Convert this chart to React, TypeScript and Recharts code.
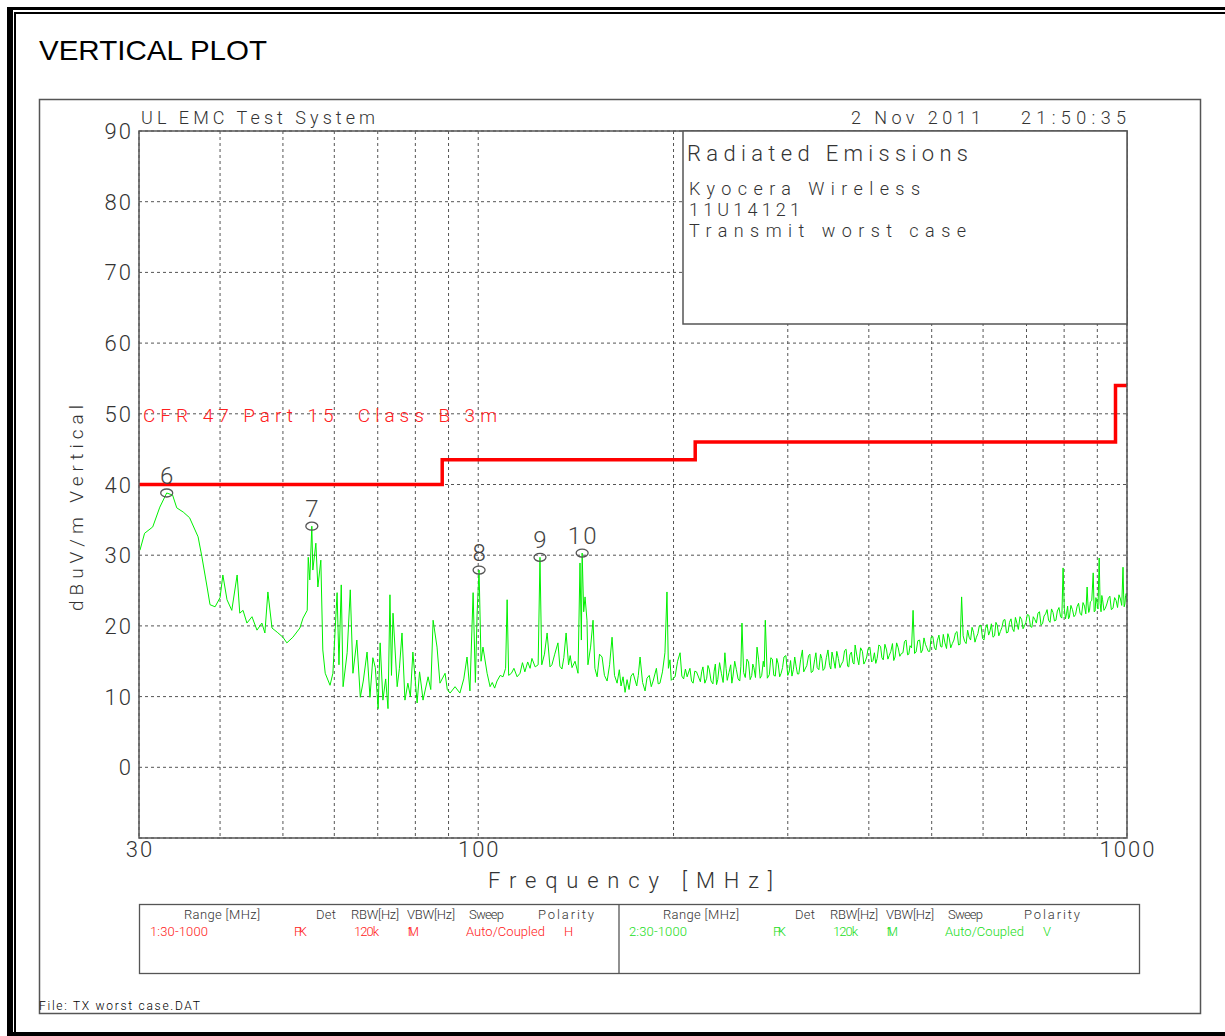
import React from 'react'
import { ComposedChart, Line, Scatter, XAxis, YAxis, CartesianGrid } from 'recharts'

// sweep: [frequency MHz, level dBuV/m]
const sweepLow: [number, number][] = [
  [30.1, 30.7], [30.6, 33.1], [31.5, 34.0], [32.3, 36.8], [33.1, 38.8], [33.8, 38.5], [34.3, 36.7], [35.1, 36.1],
  [35.9, 35.3], [37.0, 32.6], [37.5, 29.8], [38.2, 25.5], [38.6, 23.0], [39.3, 22.7], [40.0, 24.0], [40.4, 27.2],
  [41.0, 23.7], [41.7, 22.2], [42.5, 27.2], [42.9, 21.8], [43.4, 22.2], [44.0, 20.4], [44.8, 21.3], [45.6, 19.4],
  [46.4, 20.4], [46.9, 19.0], [47.4, 24.8], [48.1, 19.7], [49.0, 19.1], [50.0, 18.4], [50.7, 17.6], [51.8, 18.4],
  [53.1, 19.7], [53.7, 21.1], [54.5, 22.2], [54.7, 29.7], [55.0, 26.5], [55.4, 34.1], [55.6, 27.9], [56.2, 31.7],
  [56.6, 25.5], [57.2, 29.3], [57.6, 16.6], [58.1, 13.3], [59.1, 11.6], [59.7, 13.3], [60.6, 24.7], [61.0, 14.5],
  [61.5, 25.8], [61.9, 11.4], [62.8, 16.2], [63.5, 25.1], [64.1, 13.3], [65.0, 18.0], [65.8, 9.9], [66.5, 12.2],
  [67.4, 16.3], [68.1, 9.9], [68.8, 15.5], [69.4, 14.1], [70.1, 8.3], [70.6, 17.6], [71.3, 9.5], [72.0, 12.5],
  [72.6, 8.3], [73.1, 24.4], [73.5, 13.0], [73.9, 21.8], [75.0, 11.4], [75.6, 14.0], [76.3, 19.0], [77.1, 9.5],
  [77.9, 11.9], [78.6, 10.0], [79.3, 16.3], [80.5, 9.1], [81.2, 13.5], [81.9, 10.8], [82.2, 9.5], [83.7, 12.8],
  [84.5, 11.0], [85.2, 20.8], [86.4, 17.0], [87.3, 11.9], [88.9, 13.3], [89.6, 11.0], [90.5, 10.5], [92.1, 11.4],
  [93.7, 10.5], [95.0, 12.5], [96.1, 15.6], [97.1, 10.8], [98.2, 24.7], [99.0, 12.0], [99.6, 21.8], [100.3, 27.9],
  [101.0, 15.0], [101.7, 17.0], [103.2, 13.3], [104.3, 11.4], [105.1, 12.0], [106.0, 11.2], [106.9, 12.2], [108.1, 13.0],
  [109.2, 12.8], [110.2, 14.0], [110.8, 23.7], [111.4, 13.0],
]

const sweepMid: [number, number][] = [
  [112.5, 13.3], [113.5, 14.0], [114.8, 12.8], [116.0, 13.3], [117.0, 14.8], [118.0, 13.5], [119.2, 14.9], [120.2, 14.0],
  [121.0, 15.4], [122.4, 14.2], [123.7, 14.5], [124.5, 29.7], [125.3, 14.5], [126.5, 16.0], [127.7, 19.0], [129.0, 14.2],
  [129.9, 14.5], [131.2, 16.0], [132.7, 17.6], [133.6, 14.3], [134.6, 13.9], [135.5, 15.5], [136.6, 19.0], [137.8, 14.5],
  [138.6, 15.8], [139.5, 14.1], [141.0, 15.0], [142.5, 13.3], [143.5, 28.9], [144.2, 18.0], [144.6, 30.3], [145.4, 22.0],
  [146.1, 24.1], [147.1, 20.8], [147.6, 14.5], [149.0, 17.0], [150.3, 20.8], [151.3, 14.0], [152.5, 12.8], [153.8, 16.0],
  [155.2, 15.6], [156.5, 13.0], [158.0, 12.2], [159.4, 14.5], [160.8, 18.4], [162.2, 13.0], [163.7, 11.9], [165.0, 13.8],
  [166.0, 11.5], [167.2, 12.8], [168.4, 10.6], [169.6, 12.4], [170.8, 11.0], [172.0, 12.9], [173.3, 13.3], [175.5, 11.5],
  [176.5, 13.0], [177.6, 15.6], [179.2, 12.0], [180.8, 10.8], [182.0, 12.6], [183.5, 13.0], [184.8, 11.4], [186.0, 12.2],
  [188.2, 14.0], [189.4, 11.8], [190.6, 11.9], [192.3, 13.5], [194.0, 16.2], [195.4, 24.8], [196.4, 14.0], [197.5, 15.2],
  [198.4, 12.3], [199.3, 12.5], [201.1, 12.8], [202.9, 15.0], [204.7, 16.2], [206.0, 12.9], [207.3, 12.5], [208.6, 13.9],
  [209.9, 12.8], [212.0, 14.0], [213.2, 12.2], [214.4, 11.9], [215.7, 13.6], [217.0, 13.5],
]

const sweepHigh: [number, number][] = [
  [220, 12.1], [222, 14.2], [225, 12.6], [227, 13.9], [230, 11.8], [232, 14.6], [234, 12.4], [237, 13.3],
  [240, 16.2], [242, 12.3], [245, 14.5], [247, 12.9], [250, 13.8], [253, 12.2], [255, 20.4], [258, 12.7],
  [261, 14.9], [264, 13.0], [266, 14.1], [269, 17.0], [272, 12.6], [275, 15.0], [277, 20.8], [281, 13.1],
  [284, 15.3], [287, 12.9], [290, 14.6], [293, 13.3], [296, 15.6], [300, 13.0], [303, 15.1], [306, 13.8],
  [309, 14.3], [312, 13.2], [316, 16.6], [319, 13.9], [323, 15.8], [326, 13.4], [330, 15.2], [333, 14.1],
  [337, 16.0], [340, 13.7], [344, 15.5], [348, 14.4], [351, 16.3], [355, 14.0], [359, 15.4], [363, 14.6],
  [367, 16.5], [371, 14.3], [374, 15.9], [378, 14.8], [381, 17.3], [386, 14.5], [391, 16.4], [395, 15.0],
  [399, 16.8], [404, 14.9], [408, 16.2], [412, 15.4], [417, 17.1], [421, 15.2], [426, 16.6], [430, 15.8],
  [435, 17.5], [439, 15.6], [444, 16.9], [449, 16.1], [454, 17.8], [459, 15.9], [463, 17.2], [468, 22.2],
  [473, 16.3], [479, 18.0], [484, 16.6], [489, 17.4], [494, 16.4], [499, 18.4], [505, 16.9], [510, 17.9],
  [516, 17.1], [521, 18.8], [527, 16.8], [532, 18.3], [538, 17.5], [544, 19.0], [550, 17.3], [556, 24.1],
  [562, 17.8], [568, 19.4], [574, 18.0], [580, 19.1], [586, 18.4], [592, 20.0], [599, 18.2], [605, 19.6],
  [612, 18.7], [618, 20.3], [625, 18.6], [631, 20.1], [638, 19.2], [645, 20.8], [652, 19.0], [659, 20.5],
  [666, 19.6], [673, 21.2], [680, 19.5], [688, 20.9], [695, 20.0], [702, 21.6], [710, 19.9], [717, 21.3],
  [725, 20.4], [733, 22.0], [741, 20.3], [749, 21.7], [757, 20.8], [765, 22.4], [773, 20.7], [781, 22.1],
  [790, 21.3], [797, 28.2], [804, 21.0], [810, 22.8], [815, 21.2], [824, 22.3], [833, 21.6], [842, 23.2],
  [851, 21.5], [860, 22.8], [868, 25.5], [873, 21.9], [878, 23.4], [887, 27.5], [893, 22.1], [898, 23.5],
  [906, 29.6], [912, 22.0], [917, 23.7], [926, 22.5], [936, 23.9], [946, 22.3], [957, 24.0], [967, 22.6],
  [977, 23.8], [986, 28.3], [990, 22.7], [995, 24.3], [1000, 23.4],
]

// in-between samples of the dense noise floor above 220 MHz
const sweepHighFill: [number, number][] = [
  [221, 13.5], [223.5, 11.9], [226, 14.4], [228.5, 12.2], [231, 13.6], [233, 11.7], [235.5, 14.8], [238.5, 12.0],
  [241, 14.0], [243.5, 13.4], [246, 11.9], [248.5, 15.0], [251.5, 12.5], [254, 14.3], [256.5, 13.4], [259.5, 15.3],
  [262.5, 12.4], [265, 14.6], [267.5, 12.7], [270.5, 15.2], [273.5, 13.0], [276, 14.2], [279, 12.6], [282.5, 15.5],
  [285.5, 13.0], [288.5, 15.4], [291.5, 12.8], [294.5, 14.1], [298, 15.8], [301.5, 13.5], [304.5, 12.9], [307.5, 15.6],
  [310.5, 13.2], [314, 15.2], [317.5, 13.5], [321, 14.4], [324.5, 16.0], [328, 13.6], [331.5, 16.2], [335, 13.8],
  [338.5, 15.4], [342, 14.0], [346, 16.6], [349.5, 13.9], [353, 15.2], [357, 16.4], [361, 14.1], [365, 15.0],
  [369, 16.7], [372.5, 14.2], [376, 16.3], [379.5, 14.6], [383.5, 15.7], [388.5, 16.9], [393, 14.6], [397, 15.6],
  [401.5, 17.0], [406, 15.1], [410, 14.7], [414.5, 17.3], [419, 15.5], [423.5, 17.4], [428, 15.3], [432.5, 16.4],
  [437, 15.1], [441.5, 17.6], [446.5, 15.7], [451.5, 16.2], [456.5, 18.0], [461, 16.0], [465.5, 16.9], [470.5, 16.1],
  [476, 17.9], [481.5, 16.2], [486.5, 18.3], [491.5, 16.9], [496.5, 16.4], [502, 18.5], [507.5, 16.6], [513, 18.7],
  [518.5, 17.0], [524, 17.6], [529.5, 18.9], [535, 16.9], [541, 18.0], [547, 19.2], [553, 17.4], [559, 18.6],
  [565, 17.5], [571, 18.4], [577, 19.8], [583, 17.7], [589, 18.9], [595.5, 20.1], [602, 18.0], [608.5, 20.2],
  [615, 19.3], [621.5, 18.4], [628, 20.5], [634.5, 18.6], [641.5, 19.8], [648.5, 20.9], [655.5, 19.1], [662.5, 21.0],
  [669.5, 19.2], [676.5, 20.4], [684, 21.3], [691.5, 19.6], [698.5, 20.5], [706, 21.5], [713.5, 19.8], [721, 20.9],
  [729, 21.8], [737, 20.1], [745, 21.4], [753, 22.3], [761, 20.5], [769, 21.9], [777, 20.8], [785.5, 22.6],
  [793.5, 21.1], [800.5, 22.4], [807, 21.8], [812.5, 21.0], [819.5, 22.9], [828.5, 21.3], [837.5, 22.7], [846.5, 21.8],
  [855.5, 23.3], [864, 21.7], [870.5, 23.1], [875.5, 22.2], [882.5, 23.6], [890, 22.0], [895.5, 24.0], [902, 22.4],
  [909, 23.2], [914.5, 24.3], [921.5, 22.2], [931, 23.1], [941, 24.2], [951.5, 22.5], [962, 23.6], [972, 24.4],
  [981.5, 22.9], [988, 24.5], [992.5, 23.1], [997.5, 24.6],
]

// CFR 47 Part 15 Class B 3m limit
const limitFreq = [30, 88, 88, 216, 216, 960, 960, 1000]
const limitLevel = [40, 40, 43.5, 43.5, 46, 46, 54, 54]

// peak markers
const markerLabels = ['6', '7', '8', '9', '10']
const markerFreq = [33.1, 55.4, 100.3, 124.5, 144.6]
const markerLevel = [38.8, 34.1, 27.9, 29.7, 30.3]

const xTicks = [30, 40, 50, 60, 70, 80, 90, 100, 200, 300, 400, 500, 600, 700, 800, 900, 1000]
const xTickLabels = [30, 100, 1000]
const yTicks = [0, 10, 20, 30, 40, 50, 60, 70, 80, 90]

const sweepData = [...sweepLow, ...sweepMid, ...sweepHigh, ...sweepHighFill]
  .sort((a, b) => a[0] - b[0])
  .map(([freq, level]) => ({ freq, level }))
const limitData = limitFreq.map((freq, i) => ({ freq, level: limitLevel[i] }))
const markerData = markerFreq.map((freq, i) => ({ freq, level: markerLevel[i], label: markerLabels[i] }))

const plotFont = 'Roboto, "DejaVu Sans", sans-serif'
const ink = '#333'
const frame = '#555'

// bottom setup table: [text, x, width]
const tableHead: [string, number, number][] = [
  ['Range [MHz]', 184, 76], ['Det', 316, 20], ['RBW[Hz]', 351, 48], ['VBW[Hz]', 407, 48], ['Sweep', 469, 35], ['Polarity', 538, 56],
  ['Range [MHz]', 663, 76], ['Det', 795, 20], ['RBW[Hz]', 830, 48], ['VBW[Hz]', 886, 48], ['Sweep', 948, 35], ['Polarity', 1024, 56],
]
const tableRowH: [string, number, number][] = [
  ['1:30-1000', 150, 58], ['PK', 294, 13], ['120k', 354, 25], ['1M', 407, 12], ['Auto/Coupled', 466, 79], ['H', 564, 7],
]
const tableRowV: [string, number, number][] = [
  ['2:30-1000', 629, 58], ['PK', 773, 13], ['120k', 833, 25], ['1M', 886, 12], ['Auto/Coupled', 945, 79], ['V', 1043, 7],
]

const XTick = (props: any) => {
  const { x, y, payload } = props
  if (!xTickLabels.includes(payload.value)) return <g />
  return (
    <text x={x + 1} y={y + 19} textAnchor="middle" fontFamily={plotFont} fontWeight={300} fontSize={22}
      letterSpacing={2} fill={ink}>{payload.value}</text>
  )
}

const YTick = (props: any) => {
  const { x, y, payload } = props
  return (
    <text x={x - 6} y={y + 8} textAnchor="end" fontFamily={plotFont} fontWeight={300} fontSize={22}
      letterSpacing={2} fill={ink}>{payload.value}</text>
  )
}

const MarkerShape = (props: any) => {
  const { cx, cy, payload } = props
  return (
    <g>
      <ellipse cx={cx} cy={cy} rx={6} ry={4} fill="none" stroke="#555" strokeWidth={1.3} />
      <text x={cx + 1} y={cy - 9} textAnchor="middle" fontFamily={plotFont} fontWeight={300} fontSize={24}
        letterSpacing={2} fill="#444">{payload.label}</text>
    </g>
  )
}

const T = ({ x, y, len, size, children, fill = ink }: any) => (
  <text x={x} y={y} textLength={len} lengthAdjust="spacing" fontFamily={plotFont} fontWeight={300}
    fontSize={size} fill={fill} style={{ whiteSpace: 'pre' }}>{children}</text>
)

export default function App() {
  return (
    <div style={{ position: 'absolute', left: 0, top: 0, width: 1225, height: 1036, background: '#fff' }}>
      <ComposedChart width={1225} height={1036} margin={{ top: 131, right: 98, bottom: 158, left: 79 }}>
        <CartesianGrid stroke="#555" strokeDasharray="3 3" strokeWidth={1} />
        <XAxis dataKey="freq" type="number" scale="log" domain={[30, 1000]} allowDataOverflow ticks={xTicks}
          interval={0} height={40} axisLine={false} tickLine={false} tickSize={0} tickMargin={0} tick={XTick} />
        <YAxis type="number" domain={[-10, 90]} ticks={yTicks} interval={0} width={60} axisLine={false}
          tickLine={false} tickSize={0} tickMargin={0} tick={YTick} />
        <Line data={sweepData} dataKey="level" stroke="#00f000" strokeWidth={1} dot={false} type="linear"
          isAnimationActive={false} />
        <Line data={limitData} dataKey="level" stroke="#ff0000" strokeWidth={3.5} dot={false} type="linear"
          isAnimationActive={false} />
        <Scatter data={markerData} dataKey="level" shape={MarkerShape} isAnimationActive={false} />
      </ComposedChart>

      <svg width={1225} height={1036} style={{ position: 'absolute', left: 0, top: 0, pointerEvents: 'none' }}>
        {/* page border */}
        <rect x={7} y={7} width={6} height={1029} fill="#000" />
        <rect x={14} y={12} width={2} height={1024} fill="#000" />
        <rect x={7} y={7} width={1218} height={3} fill="#000" />
        <rect x={14} y={12} width={1211} height={2} fill="#000" />
        <rect x={7} y={1032} width={1218} height={4} fill="#000" />

        <text x={39} y={60} textLength={228} lengthAdjust="spacingAndGlyphs"
          fontFamily='"Liberation Sans", Arial, sans-serif' fontSize={28} fill="#000">VERTICAL PLOT</text>

        <rect x={39.5} y={99.5} width={1161} height={914} fill="none" stroke={frame} strokeWidth={1.5} />
        <rect x={139} y={131} width={988} height={707} fill="none" stroke={frame} strokeWidth={1.5} />
        <rect x={683} y={131} width={444} height={193} fill="#fff" stroke={frame} strokeWidth={1.5} />

        <T x={141} y={124} len={234} size={18}>UL EMC Test System</T>
        <T x={851} y={124} len={130} size={18}>2 Nov 2011</T>
        <T x={1021} y={124} len={105} size={18}>21:50:35</T>

        <T x={687} y={161} len={281} size={22}>Radiated Emissions</T>
        <T x={689} y={195} len={231} size={18}>Kyocera Wireless</T>
        <T x={689} y={216} len={111} size={18}>11U14121</T>
        <T x={689} y={237} len={277} size={18}>Transmit worst case</T>

        <T x={143} y={422} len={354} size={19} fill="#ff2020">CFR 47 Part 15  Class B 3m</T>

        <text transform="translate(83,508) rotate(-90)" textAnchor="middle" textLength={206} lengthAdjust="spacing"
          fontFamily={plotFont} fontWeight={300} fontSize={19} fill={ink}>dBuV/m Vertical</text>
        <T x={488} y={888} len={285} size={22}>Frequency [MHz]</T>

        <rect x={139.5} y={904.5} width={1000} height={69} fill="none" stroke={frame} strokeWidth={1.3} />
        <line x1={619} y1={904} x2={619} y2={974} stroke={frame} strokeWidth={1.3} />
        {tableHead.map(([s, x, w], i) => <T key={'h' + i} x={x} y={919} len={w} size={13}>{s}</T>)}
        {tableRowH.map(([s, x, w], i) => <T key={'r' + i} x={x} y={936} len={w} size={13} fill="#ff2020">{s}</T>)}
        {tableRowV.map(([s, x, w], i) => <T key={'v' + i} x={x} y={936} len={w} size={13} fill="#22dd22">{s}</T>)}

        <T x={39} y={1010} len={161} size={12} fill="#000">File: TX worst case.DAT</T>
      </svg>
    </div>
  )
}
